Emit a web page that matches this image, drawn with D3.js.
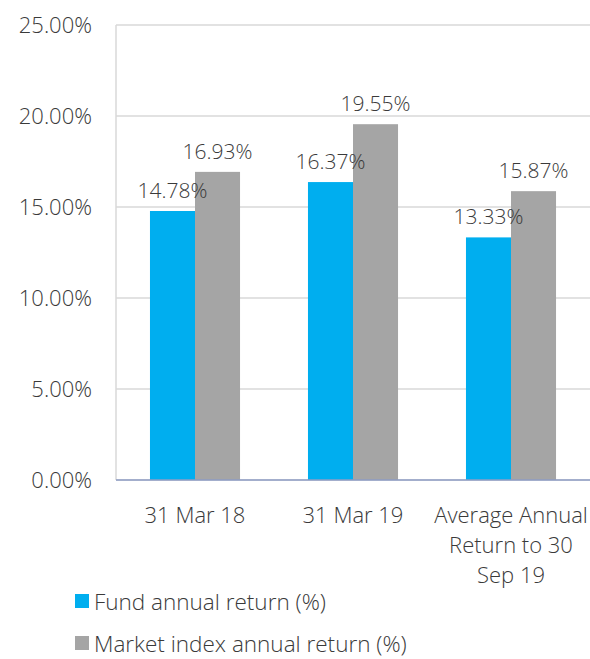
<!DOCTYPE html>
<html>
<head>
<meta charset="utf-8">
<script src="https://cdn.jsdelivr.net/npm/d3@7"></script>
<style>
  body { margin: 0; background: #fff; }
  svg text { font-family: "Open Sans", sans-serif; font-weight: 300; fill: #3a3a3a; }
</style>
</head>
<body>
<div id="chart"></div>
<script>
const categories = [["31 Mar 18"], ["31 Mar 19"], ["Average Annual", "Return to 30", "Sep 19"]];
const fundReturns = [14.78, 16.37, 13.33];
const marketReturns = [16.93, 19.55, 15.87];
const seriesNames = ["Fund annual return (%)", "Market index annual return (%)"];
const yTicks = [0, 5, 10, 15, 20, 25];

const colors = ["#00AEEF", "#A5A5A5"];
const W = 590, H = 659;
const margin = { top: 25, right: 0, bottom: 179, left: 116 };
const width = W - margin.left - margin.right,
    height = H - margin.top - margin.bottom;

const svg = d3.select("#chart").append("svg")
    .attr("width", W).attr("height", H);
const g = svg.append("g").attr("transform", `translate(${margin.left},${margin.top})`);

const x = d3.scaleBand().domain(d3.range(categories.length)).range([0, width])
    .paddingInner(0.43).paddingOuter(0.215);
const xs = d3.scaleBand().domain([0, 1]).range([0, x.bandwidth()]);
const y = d3.scaleLinear().domain([0, 25]).range([height, 0]);

// gridlines
g.selectAll(".grid").data(yTicks).enter().append("line")
    .attr("x1", 0).attr("x2", width)
    .attr("y1", d => y(d)).attr("y2", d => y(d))
    .attr("stroke", "#D9D9D9").attr("stroke-width", 1.5);
g.append("line").attr("x1", 0).attr("x2", 0).attr("y1", 0).attr("y2", height)
    .attr("stroke", "#D9D9D9").attr("stroke-width", 1.5);

// y labels
g.selectAll(".ylab").data(yTicks).enter().append("text")
    .attr("x", -24).attr("y", d => y(d) + 8)
    .attr("text-anchor", "end").style("font-size", "22px")
    .text(d => d.toFixed(2) + "%");

// bars first, then labels on top
const series = [fundReturns, marketReturns];
series.forEach((vals, s) => {
    g.selectAll(".bar" + s).data(vals).enter().append("rect")
        .attr("x", (d, i) => x(i) + xs(s))
        .attr("y", d => y(d))
        .attr("width", xs.bandwidth())
        .attr("height", d => height - y(d))
        .attr("fill", colors[s]);
});

// baseline
g.append("line").attr("x1", 0).attr("x2", width).attr("y1", height).attr("y2", height)
    .attr("stroke", "#8E9CC4").attr("stroke-width", 1.5);

series.forEach((vals, s) => {
    g.selectAll(".lab" + s).data(vals).enter().append("text")
        .attr("x", (d, i) => x(i) + xs(s) + xs.bandwidth() / 2)
        .attr("y", d => y(d) - 13)
        .attr("text-anchor", "middle").style("font-size", "21px")
        .text(d => d.toFixed(2) + "%");
});

// x labels
categories.forEach((lines, i) => {
    const t = g.append("text").attr("text-anchor", "middle").style("font-size", "22px");
    lines.forEach((ln, k) => {
        t.append("tspan").attr("x", x(i) + x.bandwidth() / 2)
            .attr("y", height + 43 + k * 30).text(ln);
    });
});

// legend
seriesNames.forEach((name, s) => {
    const ly = 594 + s * 42;
    svg.append("rect").attr("x", 75).attr("y", ly).attr("width", 14).attr("height", 14)
        .attr("fill", colors[s]);
    svg.append("text").attr("x", 94).attr("y", ly + 16).style("font-size", "22.5px").text(name);
});
</script>
</body>
</html>
